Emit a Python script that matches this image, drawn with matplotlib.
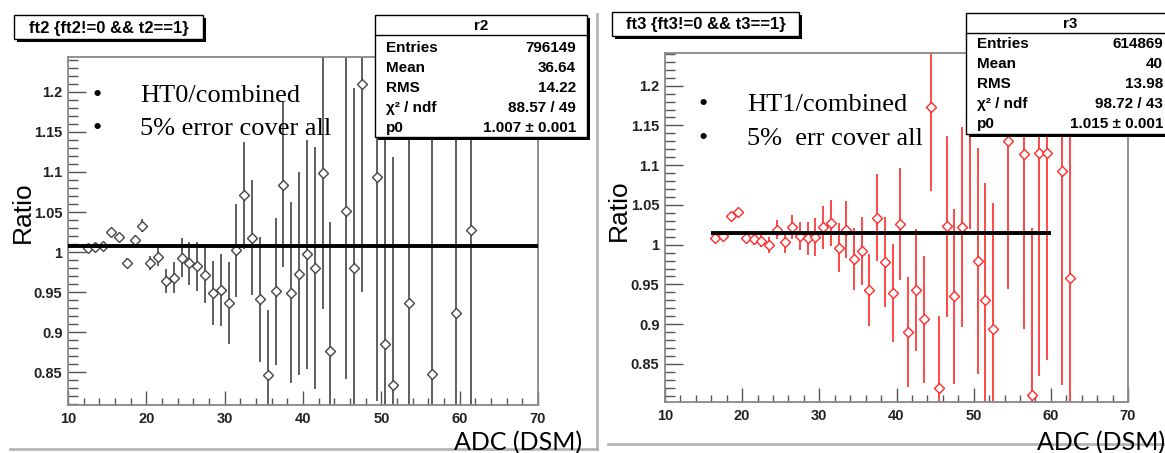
import matplotlib
matplotlib.use("Agg")
import matplotlib.pyplot as plt
from matplotlib.patches import Rectangle
from matplotlib.lines import Line2D

# HT0 / combined ratio, bin centres and errors
ht0_adc = [12.5, 13.5, 14.5, 15.5, 16.5, 17.5, 18.5, 19.5, 20.5, 21.5,
           22.5, 23.5, 24.5, 25.5, 26.5, 27.5, 28.5, 29.5, 30.5, 31.5,
           32.5, 33.5, 34.5, 35.5, 36.5, 37.5, 38.5, 39.5, 40.5, 41.5,
           42.5, 43.5, 45.5, 46.5, 47.5, 49.5, 50.5, 51.5, 53.5, 56.5,
           59.5, 61.5]
ht0_ratio = [1.005, 1.006, 1.007, 1.025, 1.019, 0.986, 1.015, 1.033, 0.986, 0.994,
             0.964, 0.968, 0.993, 0.986, 0.982, 0.971, 0.949, 0.953, 0.936, 1.002,
             1.071, 1.018, 0.941, 0.846, 0.951, 1.084, 0.949, 0.973, 0.997, 0.980,
             1.099, 0.877, 1.051, 0.980, 1.210, 1.094, 0.885, 0.834, 0.937, 0.848,
             0.924, 1.028]
ht0_err = [0.001, 0.001, 0.002, 0.003, 0.004, 0.006, 0.006, 0.008, 0.009, 0.011,
           0.015, 0.019, 0.024, 0.027, 0.031, 0.035, 0.040, 0.045, 0.051, 0.058,
           0.067, 0.072, 0.078, 0.082, 0.092, 0.103, 0.113, 0.127, 0.143, 0.151,
           0.170, 0.161, 0.210, 0.225, 0.260, 0.280, 0.400, 0.285, 0.360, 0.420,
           0.420, 0.450]
ht0_fit_range = [10, 70]
ht0_p0 = 1.007

# HT1 / combined ratio
ht1_adc = [16.5, 17.5, 18.5, 19.5, 20.5, 21.5, 22.5, 23.5, 24.5, 25.5,
           26.5, 27.5, 28.5, 29.5, 30.5, 31.5, 32.5, 33.5, 34.5, 35.5,
           36.5, 37.5, 38.5, 39.5, 40.5, 41.5, 42.5, 43.5, 44.5, 45.5,
           46.5, 47.5, 48.5, 49.5, 50.5, 51.5, 52.5, 54.5, 56.5, 57.5,
           58.5, 59.5, 61.5, 62.5]
ht1_ratio = [1.008, 1.011, 1.036, 1.041, 1.009, 1.007, 1.005, 1.000, 1.019, 1.003,
             1.022, 1.011, 1.008, 1.010, 1.022, 1.027, 0.996, 1.019, 0.982, 0.992,
             0.943, 1.034, 0.978, 0.939, 1.026, 0.890, 0.943, 0.906, 1.173, 0.820,
             1.023, 0.935, 1.022, 1.300, 0.979, 0.930, 0.894, 1.130, 1.114, 0.811,
             1.115, 1.115, 1.093, 0.958]
ht1_err = [0.002, 0.002, 0.002, 0.002, 0.005, 0.007, 0.008, 0.010, 0.012, 0.013,
           0.015, 0.018, 0.021, 0.024, 0.027, 0.029, 0.031, 0.036, 0.039, 0.043,
           0.045, 0.055, 0.057, 0.062, 0.071, 0.069, 0.077, 0.080, 0.105, 0.090,
           0.114, 0.110, 0.126, 0.280, 0.142, 0.148, 0.159, 0.186, 0.220, 0.210,
           0.280, 0.260, 0.270, 0.500]
ht1_fit_range = [16, 60]
ht1_p0 = 1.015

yticks = [0.85, 0.9, 0.95, 1.0, 1.05, 1.1, 1.15, 1.2]
ytick_labels = ["0.85", "0.9", "0.95", "1", "1.05", "1.1", "1.15", "1.2"]
xticks = [10, 20, 30, 40, 50, 60, 70]

stats_r2 = [("Entries", "796149"), ("Mean", "36.64"), ("RMS", "14.22"),
            ("\u03c7\u00b2 / ndf", "88.57 / 49"), ("p0", "1.007 \u00b1 0.001")]
stats_r3 = [("Entries", "614869"), ("Mean", "40"), ("RMS", "13.98"),
            ("\u03c7\u00b2 / ndf", "98.72 / 43"), ("p0", "1.015 \u00b1 0.001")]

W, H = 1165, 453
fig = plt.figure(figsize=(W / 100, H / 100), dpi=100)
fig.patch.set_facecolor("white")

SANS = "Liberation Sans"
SERIF = "Liberation Serif"


def fx(x):
    return x / W


def fy(y):
    return 1 - y / H


def frame_axes(box, ylim, color, adc, ratio, err, fit_range, p0):
    x0, y0, x1, y1 = box
    ax = fig.add_axes([fx(x0), fy(y1), fx(x1 - x0), (y1 - y0) / H])
    ax.errorbar(adc, ratio, yerr=err, xerr=0.5, fmt="none", ecolor=color,
                elinewidth=1.2, capsize=0, zorder=2)
    ax.plot(adc, ratio, "D", ms=5, mfc="white", mec=color, mew=1.0, zorder=3)
    ax.plot(fit_range, [p0, p0], color="black", lw=2.8, zorder=4,
            solid_capstyle="butt")
    ax.set_xlim(10, 70)
    ax.set_ylim(*ylim)
    ax.set_xticks(xticks)
    ax.set_xticks(range(12, 70, 2), minor=True)
    ax.set_yticks(yticks)
    ax.set_yticklabels(ytick_labels)
    ax.set_yticks([v / 100 for v in range(81, 125)], minor=True)
    ax.tick_params(axis="y", which="major", direction="in", length=13, width=1,
                   color="#555555", pad=4)
    ax.tick_params(axis="y", which="minor", direction="in", length=7, width=1,
                   color="#555555")
    ax.tick_params(axis="x", which="major", direction="in", length=10, width=1,
                   color="#555555", pad=5)
    ax.tick_params(axis="x", which="minor", direction="in", length=5, width=1,
                   color="#555555")
    for lab in ax.get_xticklabels() + ax.get_yticklabels():
        lab.set_fontfamily(SANS)
        lab.set_fontweight("bold")
        lab.set_fontsize(10.5)
        lab.set_color("#222222")
    for sp in ax.spines.values():
        sp.set_color("#888888")
        sp.set_linewidth(1.3)
    return ax


def shadow_box(x0, y0, x1, y1):
    fig.patches.append(Rectangle((fx(x0 + 3), fy(y1 + 3)), fx(x1 - x0), (y1 - y0) / H,
                                 transform=fig.transFigure, facecolor="black",
                                 edgecolor="black", lw=0, zorder=5))
    fig.patches.append(Rectangle((fx(x0), fy(y1)), fx(x1 - x0), (y1 - y0) / H,
                                 transform=fig.transFigure, facecolor="white",
                                 edgecolor="black", lw=1.0, zorder=6))


def title_box(x0, y0, x1, y1, text):
    shadow_box(x0, y0, x1, y1)
    fig.text(fx((x0 + x1) / 2), fy((y0 + y1) / 2 + 1), text, ha="center", va="center",
             family=SANS, weight="bold", fontsize=12, zorder=7)


def stats_box(x0, y0, x1, y1, name, rows, tx0, tx1, head_base, sep_y, row_base):
    shadow_box(x0, y0, x1, y1)
    fig.lines.append(Line2D([fx(x0), fx(x1)], [fy(sep_y), fy(sep_y)],
                            transform=fig.transFigure, color="black", lw=1.0,
                            zorder=7))
    fig.text(fx((x0 + x1) / 2), fy(head_base), name, ha="center", va="baseline",
             family=SANS, weight="bold", fontsize=11, zorder=7)
    for i, (lab, val) in enumerate(rows):
        yb = fy(row_base + 20 * i)
        fig.text(fx(tx0), yb, lab, ha="left", va="baseline", family=SANS,
                 weight="bold", fontsize=11, zorder=7)
        fig.text(fx(tx1), yb, val, ha="right", va="baseline", family=SANS,
                 weight="bold", fontsize=11, zorder=7)


def bullets(xb, xt, bases, lines):
    for yb, txt in zip(bases, lines):
        fig.text(fx(xb), fy(yb), "\u2022", ha="center", va="baseline",
                 family=SERIF, fontsize=19, zorder=3)
        fig.text(fx(xt), fy(yb), txt, ha="left", va="baseline",
                 family=SERIF, fontsize=19, zorder=3)


# panel borders
fig.lines.append(Line2D([fx(597), fx(597)], [fy(14), fy(449)], transform=fig.transFigure,
                        color="#b5b5b5", lw=2))
fig.lines.append(Line2D([fx(10), fx(597)], [fy(449), fy(449)], transform=fig.transFigure,
                        color="#b5b5b5", lw=2))
fig.lines.append(Line2D([fx(608), fx(1165)], [fy(444), fy(444)], transform=fig.transFigure,
                        color="#b5b5b5", lw=2))

# left pad: HT0
frame_axes((68, 57, 538, 405), (0.809, 1.2436), "#444444",
           ht0_adc, ht0_ratio, ht0_err, ht0_fit_range, ht0_p0)
title_box(14, 15, 203, 39, "ft2 {ft2!=0 && t2==1}")
stats_box(375, 15, 587, 137, "r2", stats_r2, 386, 576, 30, 35, 52)
bullets(97, 140, [102, 135], ["HT0/combined", "5% error cover all"])
fig.text(fx(23), fy(212), "Ratio", rotation=90, ha="center", va="center",
         family=SANS, fontsize=19)
fig.text(fx(518), fy(450), "ADC (DSM)", ha="center", va="baseline",
         family="Lato", fontsize=18)

# right pad: HT1
frame_axes((665, 53, 1128, 402), (0.8021, 1.2411), "#ff2a2a",
           ht1_adc, ht1_ratio, ht1_err, ht1_fit_range, ht1_p0)
title_box(612, 12, 799, 36, "ft3 {ft3!=0 && t3==1}")
stats_box(966, 13, 1174, 134, "r3", stats_r3, 977, 1163, 28, 33, 48)
bullets(703, 747, [111, 145], ["HT1/combined", "5%  err cover all"])
fig.text(fx(619), fy(210), "Ratio", rotation=90, ha="center", va="center",
         family=SANS, fontsize=19)
fig.text(fx(1101), fy(450), "ADC (DSM)", ha="center", va="baseline",
         family="Lato", fontsize=18)

fig.savefig("out.png", dpi=100)
